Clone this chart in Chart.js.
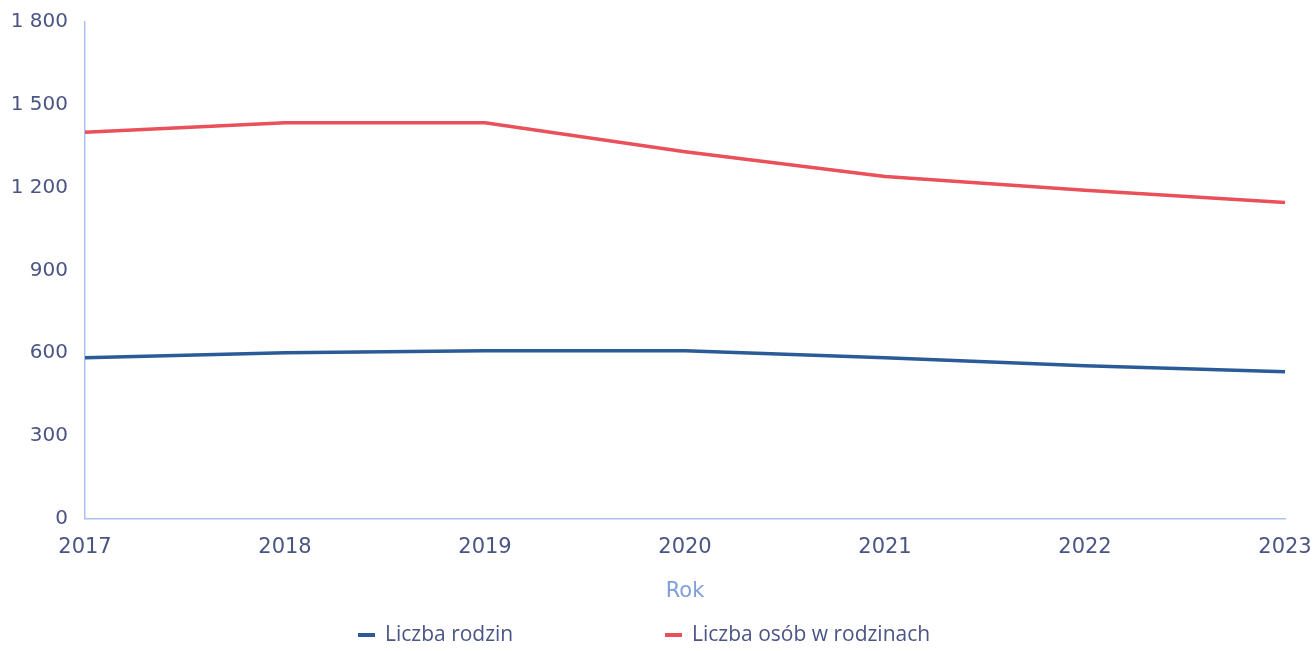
<!DOCTYPE html>
<html>
<head>
<meta charset="utf-8">
<script src="https://cdn.jsdelivr.net/npm/chart.js@4"></script>
<style>
html,body{margin:0;padding:0;background:#fff;}
#wrap{width:1316px;height:651px;position:relative;}
</style>
</head>
<body>
<div id="wrap"><canvas id="c" width="1316" height="651"></canvas></div>
<script>
const years = ['2017','2018','2019','2020','2021','2022','2023'];
const liczbaRodzin = [583, 601, 608, 608, 583, 554, 532];
const liczbaOsob = [1400, 1435, 1435, 1330, 1240, 1190, 1146];
const seriesLabels = ['Liczba rodzin', 'Liczba osób w rodzinach'];
const yTicks = [0, 300, 600, 900, 1200, 1500, 1800];

const textColor = '#4b5585';
const axisColor = '#a9c3ee';
const fontFamily = "'DejaVu Sans', sans-serif";
const legendFont = "'Open Sans', sans-serif";

const customLegend = {
  id: 'customLegend',
  afterDraw(chart) {
    const ctx = chart.ctx;
    const xs = [358, 665];
    const y = 635;
    ctx.save();
    chart.data.datasets.forEach((ds, i) => {
      const x = xs[i];
      ctx.fillStyle = ds.borderColor;
      ctx.fillRect(x, y - 2, 17, 4);
      ctx.fillStyle = textColor;
      ctx.font = '21px ' + legendFont;
      ctx.textBaseline = 'middle';
      ctx.textAlign = 'left';
      ctx.fillText(ds.label, x + 27, y);
    });
    ctx.restore();
  }
};

new Chart(document.getElementById('c'), {
  type: 'line',
  data: {
    labels: years,
    datasets: [
      {label: seriesLabels[0], data: liczbaRodzin, borderColor: '#2b5b97', backgroundColor: '#2b5b97', borderWidth: 3.5, pointRadius: 0, tension: 0},
      {label: seriesLabels[1], data: liczbaOsob, borderColor: '#e9505a', backgroundColor: '#e9505a', borderWidth: 3.5, pointRadius: 0, tension: 0}
    ]
  },
  options: {
    responsive: false,
    animation: false,
    layout: {padding: {top: 22, right: 31, left: 4, bottom: 47}},
    plugins: {
      tooltip: {enabled: false},
      legend: {display: false}
    },
    scales: {
      x: {
        offset: false,
        afterFit: (s) => { s.paddingLeft = 0; s.paddingRight = 0; },
        grid: {display: false, drawTicks: false},
        border: {color: axisColor, width: 1.5},
        ticks: {color: textColor, font: {family: fontFamily, size: 21}, padding: 16, maxRotation: 0},
        title: {display: true, text: 'Rok', color: '#7f9fd8', font: {family: fontFamily, size: 21}, padding: {top: 3, bottom: 0}}
      },
      y: {
        min: 0, max: 1800,
        afterBuildTicks: (s) => { s.ticks = yTicks.map(v => ({value: v})); },
        afterFit: (s) => { s.width = 81; s.paddingTop = 0; s.paddingBottom = 0; },
        grid: {display: false, drawTicks: false},
        border: {color: axisColor, width: 1.5},
        ticks: {
          color: textColor, font: {family: fontFamily, size: 20, lineHeight: 1}, padding: 17,
          callback: (v) => String(v).replace(/\B(?=(\d{3})+(?!\d))/g, ' ')
        }
      }
    }
  },
  plugins: [customLegend]
});
</script>
</body>
</html>
